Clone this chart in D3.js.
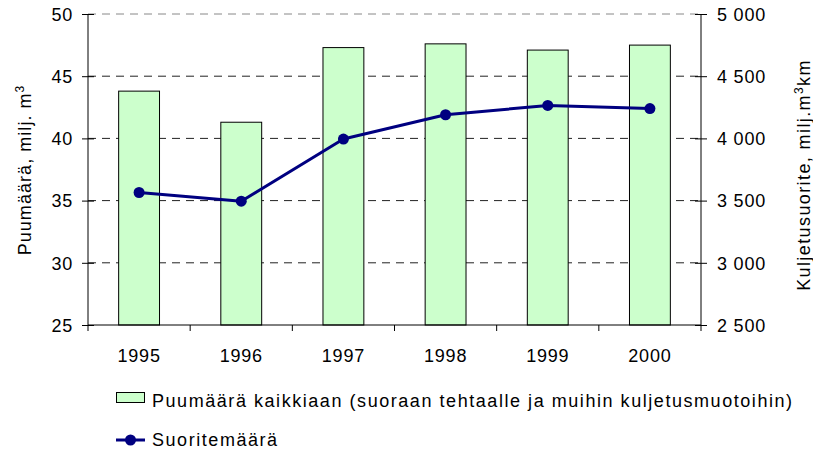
<!DOCTYPE html>
<html>
<head>
<meta charset="utf-8">
<script src="https://cdn.jsdelivr.net/npm/d3@7"></script>
<style>
  html, body { margin: 0; padding: 0; background: #fff; }
  svg { display: block; font-family: Arial, "Liberation Sans", sans-serif; }
</style>
</head>
<body>
<svg id="chart" width="813" height="450"></svg>
<script>
// Wood volume (bars, left axis) and transport performance (line, right axis)
const years = ["1995", "1996", "1997", "1998", "1999", "2000"];
const volume = [43.8, 41.3, 47.3, 47.6, 47.1, 47.5];            // milj. m3
const performance = [3565, 3495, 3995, 4190, 4265, 4240];     // milj. m3km
const leftTicks = [25, 30, 35, 40, 45, 50];
const rightTicks = [2500, 3000, 3500, 4000, 4500, 5000];
const barLabel = "Puumäärä kaikkiaan (suoraan tehtaalle ja muihin kuljetusmuotoihin)";
const lineLabel = "Suoritemäärä";

const svg = d3.select("#chart");
const fontSize = 18;
const numSpacing = "0.8px";
const textSpacing = "1.4px";
const m = { left: 88, right: 701, top: 14, bottom: 325 };

const x = d3.scaleBand().domain(years).range([m.left, m.right]).paddingInner(0.6).paddingOuter(0.3);
const xOuter = d3.scaleBand().domain(years).range([m.left, m.right]).padding(0);
const yL = d3.scaleLinear().domain([25, 50]).range([m.bottom, m.top]);
const yR = d3.scaleLinear().domain([2500, 5000]).range([m.bottom, m.top]);

// dashed horizontal gridlines
svg.append("g").selectAll("line").data(leftTicks.filter(d => d > 25)).join("line")
  .attr("x1", m.left).attr("x2", m.right)
  .attr("y1", d => yL(d)).attr("y2", d => yL(d))
  .attr("stroke", d => d === 50 ? "#888" : "#222")
  .attr("stroke-width", 1)
  .attr("stroke-dasharray", "8,6");

// bars
svg.append("g").selectAll("rect").data(years).join("rect")
  .attr("x", d => x(d)).attr("width", x.bandwidth())
  .attr("y", (d, i) => yL(volume[i]))
  .attr("height", (d, i) => yL(25) - yL(volume[i]))
  .attr("fill", "#CCFFCC").attr("stroke", "#000").attr("stroke-width", 1);

// left axis
const gL = svg.append("g").attr("transform", `translate(${m.left},0)`)
  .call(d3.axisLeft(yL).tickValues(leftTicks).tickSize(6).tickFormat(d3.format("d")));
gL.select(".domain").remove();
gL.append("line").attr("y1", m.top).attr("y2", m.bottom).attr("stroke", "#000");
gL.selectAll(".tick line").attr("x1", -6).attr("x2", 6).attr("stroke", "#000");
gL.selectAll(".tick text").attr("x", -15).attr("dy", "0.35em")
  .style("font-size", fontSize + "px").style("letter-spacing", numSpacing)
  .style("font-family", "Arial, 'Liberation Sans', sans-serif").attr("fill", "#000");

// right axis
const fmtR = d => d3.format(",")(d).replace(",", " ");
const gR = svg.append("g").attr("transform", `translate(${m.right},0)`)
  .call(d3.axisRight(yR).tickValues(rightTicks).tickSize(6).tickFormat(fmtR));
gR.select(".domain").remove();
gR.append("line").attr("y1", m.top).attr("y2", m.bottom).attr("stroke", "#000");
gR.selectAll(".tick line").attr("x1", -6).attr("x2", 6).attr("stroke", "#000");
gR.selectAll(".tick text").attr("x", 16).attr("dy", "0.35em")
  .style("font-size", fontSize + "px").style("letter-spacing", numSpacing)
  .style("font-family", "Arial, 'Liberation Sans', sans-serif").attr("fill", "#000");

// bottom axis: ticks at category boundaries
const gB = svg.append("g");
gB.append("line").attr("x1", m.left).attr("x2", m.right).attr("y1", m.bottom).attr("y2", m.bottom).attr("stroke", "#000");
gB.selectAll("line.tk").data(years.concat(["end"])).join("line").attr("class", "tk")
  .attr("x1", (d, i) => m.left + i * xOuter.bandwidth())
  .attr("x2", (d, i) => m.left + i * xOuter.bandwidth())
  .attr("y1", m.bottom).attr("y2", m.bottom + 6).attr("stroke", "#000");
gB.selectAll("text").data(years).join("text")
  .attr("x", d => xOuter(d) + xOuter.bandwidth() / 2)
  .attr("y", 362)
  .attr("text-anchor", "middle")
  .style("font-size", fontSize + "px").style("letter-spacing", numSpacing).text(d => d);

// line series
const line = d3.line().x((d, i) => xOuter(years[i]) + xOuter.bandwidth() / 2).y(d => yR(d));
svg.append("path").datum(performance).attr("d", line)
  .attr("fill", "none").attr("stroke", "#000080").attr("stroke-width", 3).attr("stroke-linejoin", "round");
svg.append("g").selectAll("circle").data(performance).join("circle")
  .attr("cx", (d, i) => xOuter(years[i]) + xOuter.bandwidth() / 2)
  .attr("cy", d => yR(d)).attr("r", 5.5).attr("fill", "#000080");

// axis titles
const titleL = svg.append("text")
  .attr("transform", `translate(31,170) rotate(-90)`)
  .attr("text-anchor", "middle").style("font-size", fontSize + "px").style("letter-spacing", "1.05px");
titleL.append("tspan").text("Puumäärä, milj. m");
titleL.append("tspan").attr("baseline-shift", "super").style("font-size", "12px").text("3");

const titleR = svg.append("text")
  .attr("transform", `translate(810,175) rotate(-90)`)
  .attr("text-anchor", "middle").style("font-size", fontSize + "px").style("letter-spacing", textSpacing);
titleR.append("tspan").text("Kuljetusuorite, milj.m");
titleR.append("tspan").attr("baseline-shift", "super").style("font-size", "12px").text("3");
titleR.append("tspan").text("km");

// legend
const lg = svg.append("g");
lg.append("rect").attr("x", 116.5).attr("y", 392.5).attr("width", 28).attr("height", 10)
  .attr("fill", "#CCFFCC").attr("stroke", "#000");
lg.append("text").attr("x", 152).attr("y", 407).style("font-size", fontSize + "px")
  .style("letter-spacing", "1.55px").text(barLabel);
lg.append("line").attr("x1", 116).attr("x2", 145).attr("y1", 440).attr("y2", 440)
  .attr("stroke", "#000080").attr("stroke-width", 3);
lg.append("circle").attr("cx", 130.5).attr("cy", 440).attr("r", 5.5).attr("fill", "#000080");
lg.append("text").attr("x", 152).attr("y", 446).style("font-size", fontSize + "px")
  .style("letter-spacing", "1.55px").text(lineLabel);
</script>
</body>
</html>
